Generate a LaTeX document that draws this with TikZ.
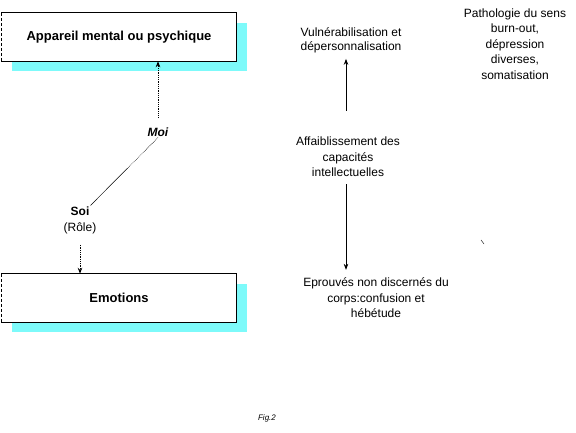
\documentclass[tikz,border=0pt]{standalone}
\usepackage{fontspec}
\setmainfont{Liberation Sans}
\usetikzlibrary{arrows.meta,shadows}

\definecolor{shadecyan}{RGB}{125,250,250}
\tikzset{
  box/.style={fill=white, minimum width=235pt, minimum height=48pt, inner sep=0pt,
    font=\bfseries\fontsize{13}{15}\selectfont,
    drop shadow={fill=shadecyan, shadow xshift=10pt, shadow yshift=-10pt, opacity=1}},
  txt/.style={align=center, inner sep=1pt, font=\fontsize{12}{15.5}\selectfont},
  edge/.style={line width=0.9pt},
  link/.style={densely dotted, line width=0.8pt, -{Stealth[length=6pt,width=4.5pt]}},
  flow/.style={line width=0.7pt, -{Stealth[length=6pt,width=4.5pt]}}
}

\begin{document}
\begin{tikzpicture}[x=1pt, y=-1pt]
  \useasboundingbox (0,0) rectangle (576,433);
  % left side
  \node[box] (app) at (119,37) {Appareil mental ou psychique};
  \draw[edge] (app.south west) -- (app.south east) -- (app.north east) -- (app.north west);
  \draw[densely dashed, line width=0.6pt] (app.north west) -- (app.south west);
  \node[box] (emo) at (119,298) {Emotions};
  \draw[edge] (emo.south west) -- (emo.south east) -- (emo.north east) -- (emo.north west);
  \draw[densely dashed, line width=0.6pt] (emo.north west) -- (emo.south west);
  \node[txt, font=\bfseries\itshape\fontsize{12}{14}\selectfont] (moi) at (158,132) {Moi};
  \node[txt, font=\bfseries\fontsize{12}{14}\selectfont] (soi) at (80,211) {Soi};
  \node[txt] (role) at (80,228) {(Rôle)};
  \draw[link, shorten <=9pt] (moi.north) -- (moi.north |- app.south);
  \path (moi.south) -- (soi.north east) coordinate[pos=0.45] (bend);
  \draw[densely dotted, line width=0.6pt] (moi.south) -- (bend);
  \draw[line width=0.5pt] (bend) -- (soi.north east);
  \draw[link, shorten <=10pt] (role.south) -- (role.south |- emo.north);
  % right side
  \node[txt, font=\fontsize{12}{14}\selectfont] (vul) at (351,40) {Vulnérabilisation et\\dépersonnalisation};
  \node[txt] (path) at (515,44) {Pathologie du sens\\burn-out,\\dépression\\diverses,\\somatisation};
  \node[txt] (aff) at (348,157) {Affaiblissement des\\capacités\\intellectuelles};
  \node[txt] (epr) at (376,298) {Eprouvés non discernés du\\corps:confusion et\\hébétude};
  \draw[flow, shorten <=25pt, shorten >=5pt] (aff.north -| 346,0) -- (vul.south -| 346,0);
  \draw[flow, shorten <=6pt, shorten >=7pt] (aff.south -| 346,0) -- (epr.north -| 346,0);
  \draw[line width=0.4pt] (481,240) -- (484,244);
  \node[txt, font=\itshape\fontsize{8}{10}\selectfont] (fig) at (267,418) {Fig.2};
\end{tikzpicture}
\end{document}
